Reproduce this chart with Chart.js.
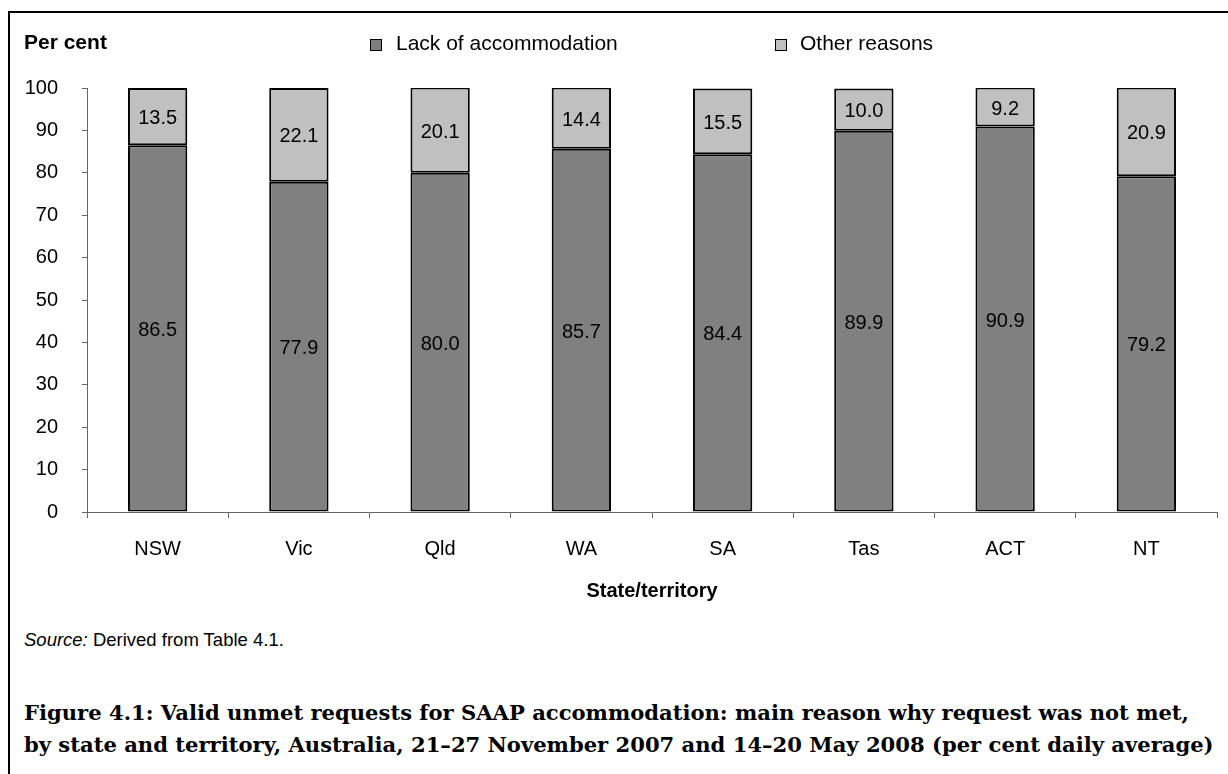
<!DOCTYPE html>
<html>
<head>
<meta charset="utf-8">
<script src="https://cdn.jsdelivr.net/npm/chart.js@4"></script>
<style>
  html, body { margin: 0; padding: 0; background: #fff; overflow: hidden; }
  body { width: 1228px; height: 774px; position: relative; font-family: "Liberation Sans", Arial, sans-serif; color: #000; }
  #frame { position: absolute; left: 8px; top: 11px; width: 1400px; height: 900px; border: 2px solid #000; box-sizing: border-box; }
  #wrap { position: absolute; left: 0; top: 0; width: 1228px; height: 600px; }
  .txt { position: absolute; white-space: nowrap; }
  #ytitle { left: 24px; top: 30px; font-weight: bold; font-size: 21px; }
  .legtxt { position: absolute; top: 31px; font-size: 21px; white-space: nowrap; }
  .sw { position: absolute; top: 39px; width: 10px; height: 10px; border: 1px solid #000; }
  #xtitle { left: 0; width: 1304px; top: 579px; text-align: center; font-weight: bold; font-size: 20px; }
  #source { left: 24px; top: 629px; font-size: 18.5px; }
  #caption { left: 24px; top: 697px; font-family: "DejaVu Serif", serif; font-weight: bold; font-size: 21.1px; line-height: 32px; }
</style>
</head>
<body>
<div id="frame"></div>
<div id="wrap"><canvas id="chart" width="1228" height="600"></canvas></div>
<div class="txt" id="ytitle">Per cent</div>
<div class="sw" style="left:370px; background:#808080"></div>
<div class="legtxt" style="left:396px">Lack of accommodation</div>
<div class="sw" style="left:775px; background:#c0c0c0"></div>
<div class="legtxt" style="left:800px">Other reasons</div>
<div class="txt" id="xtitle">State/territory</div>
<div class="txt" id="source"><i>Source:</i> Derived from Table 4.1.</div>
<div class="txt" id="caption">Figure 4.1: Valid unmet requests for SAAP accommodation: main reason why request was not met,<br>by state and territory, Australia, 21–27 November 2007 and 14–20 May 2008 (per cent daily average)</div>

<script>
// catégories et séries
const states = ['NSW', 'Vic', 'Qld', 'WA', 'SA', 'Tas', 'ACT', 'NT'];
const lackOfAccommodation = [86.5, 77.9, 80.0, 85.7, 84.4, 89.9, 90.9, 79.2];
const otherReasons = [13.5, 22.1, 20.1, 14.4, 15.5, 10.0, 9.2, 20.9];
const yTicks = [0, 10, 20, 30, 40, 50, 60, 70, 80, 90, 100];

// valeurs au centre de chaque segment
const segmentLabels = {
    id: 'segmentLabels',
    afterDatasetsDraw(chart) {
        const ctx = chart.ctx;
        ctx.save();
        ctx.font = '20px "Liberation Sans", Arial, sans-serif';
        ctx.fillStyle = '#000';
        ctx.textAlign = 'center';
        ctx.textBaseline = 'middle';
        chart.data.datasets.forEach((ds, i) => {
            chart.getDatasetMeta(i).data.forEach((bar, j) => {
                ctx.fillText(ds.data[j].toFixed(1), bar.x, (bar.y + bar.base) / 2 + 2);
            });
        });
        ctx.restore();
    }
};

new Chart(document.getElementById('chart').getContext('2d'), {
    type: 'bar',
    data: {
        labels: states,
        datasets: [
            {
                label: 'Lack of accommodation',
                data: lackOfAccommodation,
                backgroundColor: '#808080',
                borderColor: '#000',
                borderWidth: 2,
                borderSkipped: false,
            },
            {
                label: 'Other reasons',
                data: otherReasons,
                backgroundColor: '#c0c0c0',
                borderColor: '#000',
                borderWidth: 2,
                borderSkipped: false,
            },
        ],
    },
    options: {
        responsive: false,
        animation: false,
        layout: { padding: { left: 0, right: 11, top: 88, bottom: 0 } },
        datasets: { bar: { categoryPercentage: 1, barPercentage: 0.42 } },
        plugins: {
            legend: { display: false },
            tooltip: { enabled: false },
        },
        scales: {
            x: {
                stacked: true,
                offset: true,
                afterFit: scale => { scale.height = 88; },
                grid: { offset: true, drawOnChartArea: false, drawTicks: true, tickLength: 6, color: '#666' },
                border: { color: '#666', width: 1 },
                ticks: { color: '#000', font: { family: '"Liberation Sans", Arial', size: 20 }, padding: 19 },
            },
            y: {
                stacked: true,
                min: 0,
                max: 100,
                afterFit: scale => { scale.width = 87; },
                afterBuildTicks: scale => { scale.ticks = yTicks.map(v => ({ value: v })); },
                grid: { drawOnChartArea: false, drawTicks: true, tickLength: 5, color: '#666' },
                border: { color: '#666', width: 1 },
                ticks: { color: '#000', font: { family: '"Liberation Sans", Arial', size: 20 }, padding: 24 },
            },
        },
    },
    plugins: [segmentLabels],
});
</script>
</body>
</html>
